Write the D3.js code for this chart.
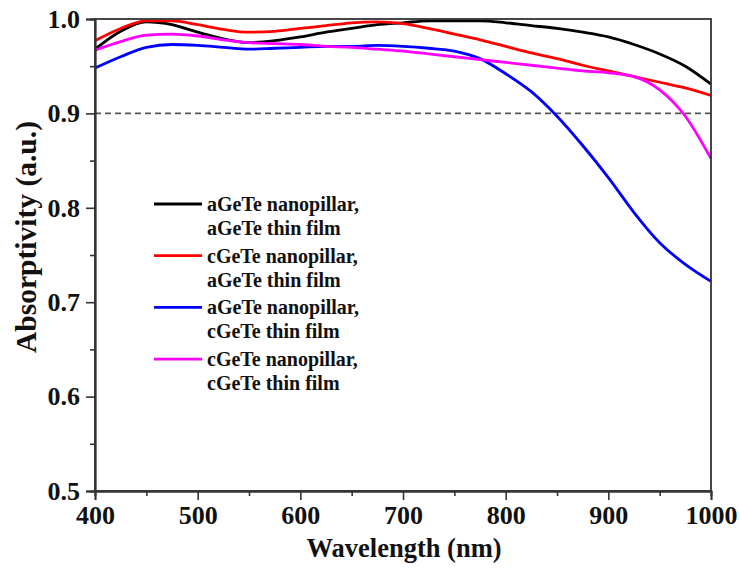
<!DOCTYPE html>
<html>
<head>
<meta charset="utf-8">
<script src="https://d3js.org/d3.v7.min.js"></script>
<style>
  body { margin: 0; background: #fff; }
  text { font-family: "Liberation Serif", "Times New Roman", serif; font-weight: bold; }
</style>
</head>
<body>
<svg id="absChart"></svg>
<script>
// wavelengths (nm) the curves were read at
const wavelength = [400, 425, 450, 475, 500, 525, 550, 575, 600, 625, 650, 675, 700,
                    725, 750, 775, 800, 825, 850, 875, 900, 925, 950, 975, 1000];

// absorptivity per config
const aNpAFilm = [0.968, 0.987, 0.997, 0.994, 0.986, 0.979, 0.975, 0.977, 0.981, 0.986, 0.990, 0.994, 0.996,
                  0.998, 0.998, 0.998, 0.996, 0.993, 0.990, 0.986, 0.981, 0.973, 0.963, 0.950, 0.931];
const cNpAFilm = [0.977, 0.990, 0.998, 0.998, 0.994, 0.989, 0.986, 0.987, 0.990, 0.993, 0.996, 0.997, 0.995,
                  0.990, 0.984, 0.978, 0.971, 0.964, 0.958, 0.951, 0.945, 0.939, 0.933, 0.927, 0.919];
const aNpCFilm = [0.948, 0.960, 0.970, 0.973, 0.972, 0.970, 0.968, 0.969, 0.970, 0.971, 0.971, 0.972, 0.971,
                  0.969, 0.966, 0.958, 0.942, 0.923, 0.897, 0.866, 0.832, 0.795, 0.763, 0.740, 0.722];
const cNpCFilm = [0.967, 0.976, 0.983, 0.984, 0.982, 0.978, 0.975, 0.974, 0.973, 0.971, 0.970, 0.968, 0.966,
                  0.963, 0.960, 0.957, 0.954, 0.951, 0.948, 0.945, 0.943, 0.939, 0.925, 0.897, 0.852];

const seriesNames = [
  ['aGeTe nanopillar,', 'aGeTe thin film'],
  ['cGeTe nanopillar,', 'aGeTe thin film'],
  ['aGeTe nanopillar,', 'cGeTe thin film'],
  ['cGeTe nanopillar,', 'cGeTe thin film']
];
const seriesColors = ['#000000', '#ff0000', '#0000ff', '#ff00ff'];

const xTicks = [400, 500, 600, 700, 800, 900, 1000];
const xMinor = [450, 550, 650, 750, 850, 950];
const yTicks = [0.5, 0.6, 0.7, 0.8, 0.9, 1.0];
const yMinor = [0.55, 0.65, 0.75, 0.85, 0.95];
const refLevel = 0.9; // dashed line

(function() {
  const width = 740,
        height = 568;
  const plot = { left: 95, right: 711, top: 19, bottom: 491 };

  const xScale = d3.scaleLinear().domain([400, 1000]).range([plot.left, plot.right]);
  const yScale = d3.scaleLinear().domain([0.5, 1.0]).range([plot.bottom, plot.top]);

  const svg = d3.select('#absChart')
    .attr('width', width)
    .attr('height', height);

  // dashed 0.9 reference
  svg.append('line')
    .attr('x1', xScale(400)).attr('x2', xScale(1000))
    .attr('y1', yScale(refLevel)).attr('y2', yScale(refLevel))
    .attr('stroke', '#555')
    .attr('stroke-width', 1.6)
    .attr('stroke-dasharray', '6,4');

  // curves
  const allSeries = [aNpAFilm, cNpAFilm, aNpCFilm, cNpCFilm];
  const line = d3.line()
    .x((d, i) => xScale(wavelength[i]))
    .y(d => yScale(d))
    .curve(d3.curveMonotoneX);

  svg.selectAll('path.curve')
      .data(allSeries)
    .enter().append('path')
      .attr('class', 'curve')
      .attr('d', line)
      .attr('fill', 'none')
      .attr('stroke', (d, i) => seriesColors[i])
      .attr('stroke-width', 2.8);

  // frame (top + right)
  svg.append('rect')
    .attr('x', plot.left).attr('y', plot.top)
    .attr('width', plot.right - plot.left).attr('height', plot.bottom - plot.top)
    .attr('fill', 'none')
    .attr('stroke', '#333')
    .attr('stroke-width', 1.8);

  // axes - major + minor ticks, all outward
  const xAxis = d3.axisBottom(xScale).tickValues(xTicks).tickSize(9).tickPadding(6).tickFormat(d3.format('d'));
  const xAxisMinor = d3.axisBottom(xScale).tickValues(xMinor).tickSize(5).tickFormat('');
  const yAxis = d3.axisLeft(yScale).tickValues(yTicks).tickSize(9).tickPadding(6).tickFormat(d3.format('.1f'));
  const yAxisMinor = d3.axisLeft(yScale).tickValues(yMinor).tickSize(5).tickFormat('');

  svg.append('g').attr('transform', `translate(0,${plot.bottom})`).call(xAxis);
  svg.append('g').attr('transform', `translate(0,${plot.bottom})`).call(xAxisMinor);
  svg.append('g').attr('transform', `translate(${plot.left},0)`).call(yAxis);
  svg.append('g').attr('transform', `translate(${plot.left},0)`).call(yAxisMinor);

  svg.selectAll('.domain').attr('stroke', '#333').attr('stroke-width', 1.8);
  svg.selectAll('.tick line').attr('stroke', '#333').attr('stroke-width', 1.6);
  svg.selectAll('.tick text')
    .attr('font-size', 26)
    .attr('fill', '#111');

  // axis titles
  svg.append('text')
    .attr('x', 404)
    .attr('y', 557)
    .attr('text-anchor', 'middle')
    .attr('font-size', 26.5)
    .attr('fill', '#111')
    .text('Wavelength (nm)');

  svg.append('text')
    .attr('transform', 'translate(36,237) rotate(-90)')
    .attr('text-anchor', 'middle')
    .attr('font-size', 29.5)
    .attr('fill', '#111')
    .text('Absorptivity (a.u.)');

  // legend
  const legend = svg.selectAll('g.legend')
      .data(seriesNames)
    .enter().append('g')
      .attr('class', 'legend')
      .attr('transform', (d, i) => `translate(154,${204 + i * 51.7})`);

  legend.append('line')
    .attr('x1', 0).attr('x2', 48)
    .attr('y1', 0).attr('y2', 0)
    .attr('stroke', (d, i) => seriesColors[i])
    .attr('stroke-width', 2.8);

  legend.append('text')
    .attr('x', 53)
    .attr('y', 7)
    .attr('font-size', 20)
    .attr('fill', '#111')
    .text(d => d[0]);

  legend.append('text')
    .attr('x', 53)
    .attr('y', 31)
    .attr('font-size', 20)
    .attr('fill', '#111')
    .text(d => d[1]);
})();
</script>
</body>
</html>
